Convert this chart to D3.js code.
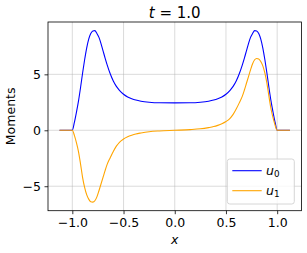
<!DOCTYPE html>
<html>
<head>
<meta charset="utf-8">
<script src="https://cdn.jsdelivr.net/npm/d3@7"></script>
<style>
body { margin: 0; background: #fff; }
text { font-family: "DejaVu Sans", sans-serif; }
</style>
</head>
<body>
<div id="chart"></div>
<script>
var xs = [-1.125, -1.0, -0.98, -0.96, -0.94, -0.92, -0.90, -0.88, -0.86, -0.84, -0.82, -0.80, -0.78, -0.76, -0.74, -0.72, -0.70, -0.68, -0.66, -0.63, -0.60, -0.57, -0.54, -0.50, -0.46, -0.42, -0.38, -0.33, -0.25, -0.15, 0,
          0.15, 0.25, 0.33, 0.38, 0.42, 0.46, 0.50, 0.54, 0.57, 0.60, 0.63, 0.66, 0.68, 0.70, 0.72, 0.74, 0.76, 0.78, 0.80, 0.82, 0.84, 0.86, 0.88, 0.90, 0.92, 0.94, 0.96, 0.98, 1.0, 1.125];
var u0 = [0, 0, 0.7, 1.6, 2.6, 3.8, 5.1, 6.3, 7.35, 8.15, 8.65, 8.88, 8.91, 8.65, 8.3, 7.75, 7.1, 6.45, 5.85, 5.05, 4.4, 3.92, 3.57, 3.22, 2.98, 2.82, 2.7, 2.6, 2.51, 2.46, 2.45,
          2.46, 2.51, 2.6, 2.7, 2.82, 2.98, 3.22, 3.57, 3.92, 4.4, 5.05, 5.85, 6.45, 7.1, 7.75, 8.3, 8.65, 8.91, 8.88, 8.65, 8.15, 7.35, 6.3, 5.1, 3.8, 2.6, 1.6, 0.7, 0, 0];
var u1 = [0, 0, -0.45, -1.1, -1.9, -3.0, -4.2, -5.1, -5.75, -6.15, -6.38, -6.42, -6.3, -5.95, -5.4, -4.8, -4.2, -3.6, -3.05, -2.45, -1.9, -1.42, -1.07, -0.78, -0.58, -0.44, -0.33, -0.24, -0.13, -0.06, 0,
          0.06, 0.13, 0.24, 0.33, 0.44, 0.58, 0.78, 1.07, 1.42, 1.9, 2.45, 3.05, 3.6, 4.2, 4.8, 5.4, 5.95, 6.3, 6.42, 6.38, 6.15, 5.75, 5.1, 4.2, 3.0, 1.9, 1.1, 0.45, 0, 0];
var xticks = [-1.0, -0.5, 0.0, 0.5, 1.0];
var yticks = [-5, 0, 5];
var seriesNames = ["0", "1"];
var seriesColors = ["blue", "orange"];

var W = 307, H = 253;
var fs = 12.5;
// plot box
var pL = 48, pR = 301.5, pT = 22, pB = 210.7;

var svg = d3.select("#chart")
    .append("svg")
    .attr("width", W)
    .attr("height", H);

var xlo = d3.min(xs), xhi = d3.max(xs);
var ylo = Math.min(d3.min(u0), d3.min(u1)), yhi = Math.max(d3.max(u0), d3.max(u1));
var xpad = (xhi - xlo) * 0.05, ypad = (yhi - ylo) * 0.05;

var x = d3.scaleLinear().domain([xlo - xpad, xhi + xpad]).range([pL, pR]);
var y = d3.scaleLinear().domain([ylo - ypad, yhi + ypad]).range([pB, pT]);

// grid
svg.append("g").selectAll("line").data(xticks).enter().append("line")
    .attr("x1", function(d) { return x(d); }).attr("x2", function(d) { return x(d); })
    .attr("y1", pT).attr("y2", pB)
    .attr("stroke", "#b0b0b0").attr("stroke-opacity", 0.5).attr("stroke-width", 0.9);
svg.append("g").selectAll("line").data(yticks).enter().append("line")
    .attr("y1", function(d) { return y(d); }).attr("y2", function(d) { return y(d); })
    .attr("x1", pL).attr("x2", pR)
    .attr("stroke", "#b0b0b0").attr("stroke-opacity", 0.5).attr("stroke-width", 0.9);

// curves
var allSeries = [u0, u1];
for (var s = 0; s < allSeries.length; s++)
{
    var pts = xs.map(function(d, i) { return [d, allSeries[s][i]]; });
    var line = d3.line()
        .x(function(d) { return x(d[0]); })
        .y(function(d) { return y(d[1]); })
        .curve(d3.curveMonotoneX);
    svg.append("path")
        .attr("d", line(pts))
        .attr("fill", "none")
        .attr("stroke", seriesColors[s])
        .attr("stroke-width", 1.1);
}

// axes
var fmt = function(d) { return d3.format(".1f")(d).replace("-", "\u2212"); };
var xAxis = svg.append("g")
    .attr("transform", "translate(0," + pB + ")")
    .call(d3.axisBottom(x).tickValues(xticks).tickSize(3.5).tickPadding(3.5).tickFormat(fmt));
var yAxis = svg.append("g")
    .attr("transform", "translate(" + pL + ",0)")
    .call(d3.axisLeft(y).tickValues(yticks).tickSize(3.5).tickPadding(3.5)
        .tickFormat(function(d) { return String(d).replace("-", "\u2212"); }));
[xAxis, yAxis].forEach(function(a) {
    a.attr("font-size", null).attr("font-family", null);
    a.select(".domain").remove();
    a.selectAll("text").attr("font-size", fs).attr("fill", "#000");
    a.selectAll("line").attr("stroke", "#000").attr("stroke-width", 0.8);
});

svg.append("rect")
    .attr("x", pL).attr("y", pT)
    .attr("width", pR - pL).attr("height", pB - pT)
    .attr("fill", "none").attr("stroke", "#000").attr("stroke-width", 0.8);

// title
var title = svg.append("text")
    .attr("x", (pL + pR) / 2).attr("y", 18)
    .attr("text-anchor", "middle").attr("font-size", 15);
title.append("tspan").attr("font-style", "italic").text("t");
title.append("tspan").text(" = 1.0");

// axis labels
svg.append("text")
    .attr("x", (pL + pR) / 2).attr("y", 243.5)
    .attr("text-anchor", "middle").attr("font-size", fs)
    .attr("font-style", "italic").text("x");
svg.append("text")
    .attr("transform", "translate(14.5," + ((pT + pB) / 2) + ") rotate(-90)")
    .attr("text-anchor", "middle").attr("font-size", fs)
    .text("Moments");

// legend
var lg = svg.append("g");
lg.append("rect")
    .attr("x", 227.3).attr("y", 159).attr("width", 67).attr("height", 45)
    .attr("rx", 2.5)
    .attr("fill", "#fff").attr("fill-opacity", 0.8)
    .attr("stroke", "#cccccc").attr("stroke-width", 0.8);
for (var k = 0; k < seriesNames.length; k++)
{
    var ly = 170.7 + k * 20;
    lg.append("line")
        .attr("x1", 232.3).attr("x2", 261.7).attr("y1", ly).attr("y2", ly)
        .attr("stroke", seriesColors[k]).attr("stroke-width", 1.1);
    var lt = lg.append("text")
        .attr("x", 266).attr("y", ly + 4.5).attr("font-size", fs);
    lt.append("tspan").attr("font-style", "italic").text("u");
    lt.append("tspan").attr("font-size", 8.8).attr("dy", 2).text(seriesNames[k]);
}
</script>
</body>
</html>
